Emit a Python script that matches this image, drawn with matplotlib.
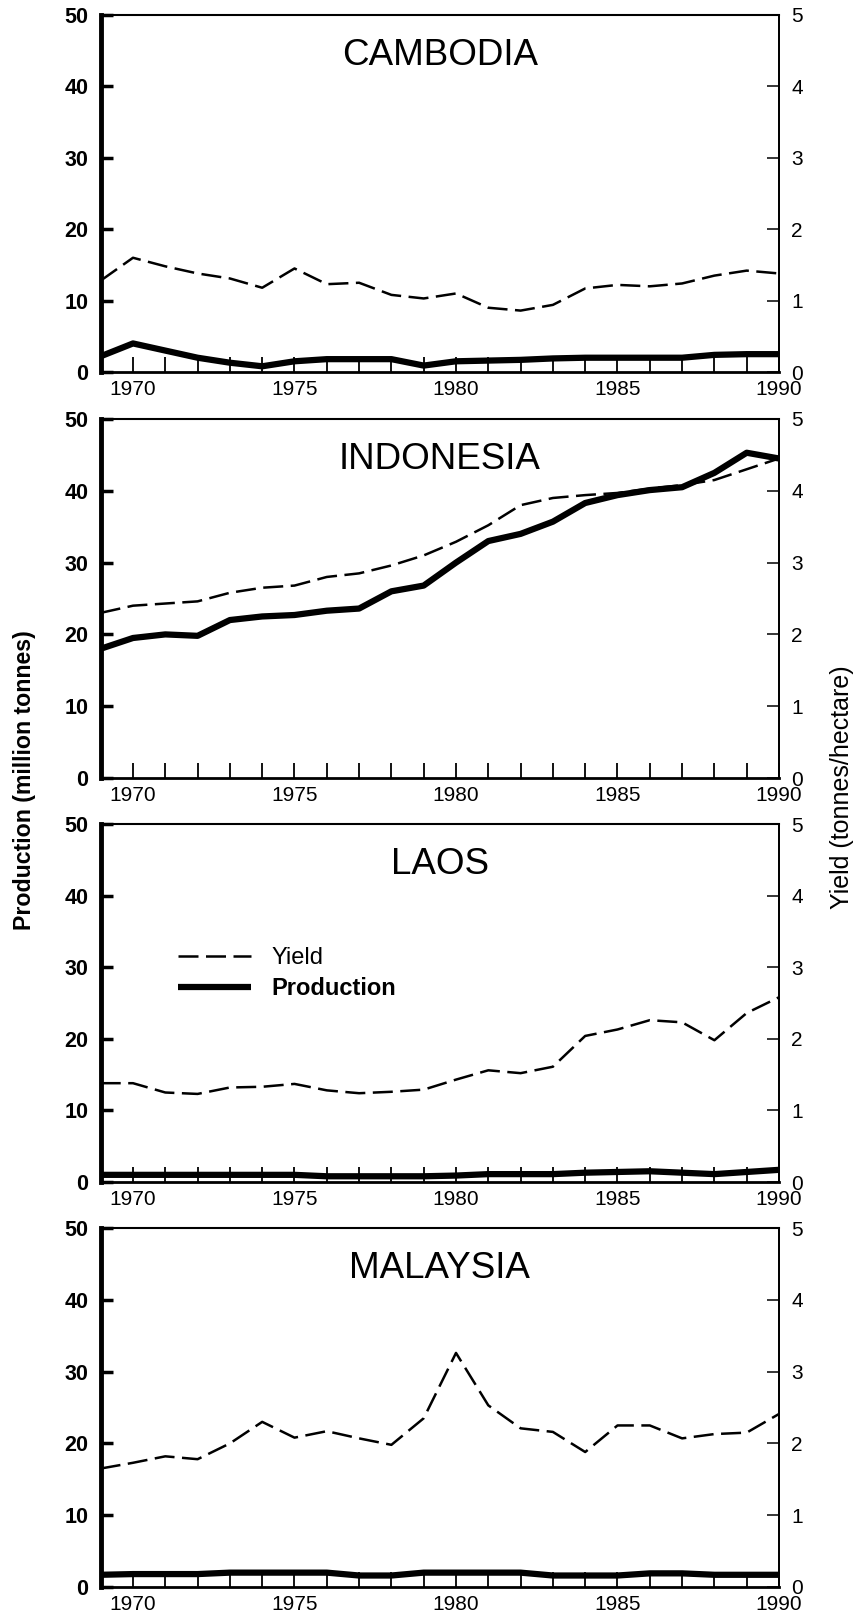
import matplotlib
matplotlib.use("Agg")
import matplotlib.pyplot as plt

plt.rcParams['font.family'] = ['Liberation Sans', 'DejaVu Sans']

years = list(range(1969, 1991))

countries = ["CAMBODIA", "INDONESIA", "LAOS", "MALAYSIA"]

# Production (million tonnes)
cambodia_prod = [2.2, 4.0, 3.0, 2.0, 1.3, 0.8, 1.5, 1.8, 1.8, 1.8, 0.9, 1.5,
                 1.6, 1.7, 1.9, 2.0, 2.0, 2.0, 2.0, 2.4, 2.5, 2.5]
indonesia_prod = [18.0, 19.5, 20.0, 19.8, 22.0, 22.5, 22.7, 23.3, 23.6, 26.0, 26.8, 30.0,
                  33.0, 34.0, 35.7, 38.3, 39.4, 40.1, 40.5, 42.5, 45.3, 44.5]
laos_prod = [1.0, 1.0, 1.0, 1.0, 1.0, 1.0, 1.0, 0.8, 0.8, 0.8, 0.8, 0.9,
             1.1, 1.1, 1.1, 1.3, 1.4, 1.5, 1.3, 1.1, 1.4, 1.7]
malaysia_prod = [1.7, 1.8, 1.8, 1.8, 2.0, 2.0, 2.0, 2.0, 1.6, 1.6, 2.0, 2.0,
                 2.0, 2.0, 1.6, 1.6, 1.6, 1.9, 1.9, 1.7, 1.7, 1.7]

# Yield (tonnes/hectare)
cambodia_yield = [1.28, 1.60, 1.48, 1.38, 1.31, 1.18, 1.45, 1.23, 1.25, 1.08, 1.03, 1.10,
                  0.90, 0.86, 0.94, 1.17, 1.22, 1.20, 1.24, 1.35, 1.42, 1.38]
indonesia_yield = [2.30, 2.40, 2.43, 2.46, 2.58, 2.65, 2.68, 2.80, 2.85, 2.96, 3.10, 3.29,
                   3.52, 3.80, 3.90, 3.94, 3.97, 4.03, 4.08, 4.15, 4.30, 4.45]
laos_yield = [1.38, 1.38, 1.25, 1.23, 1.32, 1.33, 1.37, 1.28, 1.24, 1.26, 1.29, 1.43,
              1.56, 1.52, 1.61, 2.04, 2.13, 2.26, 2.23, 1.98, 2.36, 2.58]
malaysia_yield = [1.65, 1.73, 1.82, 1.78, 2.00, 2.30, 2.08, 2.17, 2.07, 1.98, 2.35, 3.26,
                  2.53, 2.21, 2.16, 1.88, 2.25, 2.25, 2.07, 2.13, 2.15, 2.41]

production = [cambodia_prod, indonesia_prod, laos_prod, malaysia_prod]
yields = [cambodia_yield, indonesia_yield, laos_yield, malaysia_yield]

prod_ticks = [0, 10, 20, 30, 40, 50]
yield_ticks = [0, 1, 2, 3, 4, 5]
year_ticks = list(range(1970, 1991))
year_labels = [str(y) if y % 5 == 0 else "" for y in year_ticks]

W, H = 861, 1623
fig = plt.figure(figsize=(W / 100, H / 100), dpi=100)

panel_px = [(15, 372), (419, 778), (824, 1182), (1228, 1587)]
left_px, right_px = 100.7, 779.0

for i, (top, bot) in enumerate(panel_px):
    ax = fig.add_axes([left_px / W, 1 - bot / H, (right_px - left_px) / W, (bot - top) / H])
    ax.plot(years, production[i], color='black', lw=4.5, solid_capstyle='butt',
            label='Production')
    ax.set_xlim(1969, 1990)
    ax.set_ylim(0, 50)
    ax.set_xticks(year_ticks)
    ax.set_xticklabels(year_labels)
    ax.set_yticks(prod_ticks)
    ax.set_yticklabels([str(t) for t in prod_ticks], fontweight='bold')
    ax.tick_params(axis='x', direction='in', length=10.5, width=1.3, pad=6, labelsize=15)
    ax.tick_params(axis='y', direction='in', length=8.5, width=2.5, pad=9, labelsize=15.5)
    ax.spines['left'].set_linewidth(3.5)
    ax.spines['top'].set_linewidth(1.5)
    ax.spines['bottom'].set_linewidth(2.0)
    ax.spines['right'].set_linewidth(1.3)

    ax2 = ax.twinx()
    ax2.plot(years, yields[i], color='black', lw=1.8, dashes=(8, 3), label='Yield')
    ax2.set_ylim(0, 5)
    ax2.set_yticks(yield_ticks)
    ax2.tick_params(axis='y', direction='in', length=8.5, width=1.1, pad=9, labelsize=15)
    for s in ['left', 'top', 'bottom']:
        ax2.spines[s].set_visible(False)
    ax2.spines['right'].set_linewidth(1.3)

    ax2.text(0.5, 0.86, countries[i], transform=ax.transAxes, ha='center',
             va='baseline', fontsize=26.5)

    if i == 2:
        h1, l1 = ax2.get_legend_handles_labels()
        h2, l2 = ax.get_legend_handles_labels()
        leg = ax2.legend(h1 + h2, l1 + l2, loc='upper left',
                         bbox_to_anchor=(0.114, 0.656), frameon=False,
                         fontsize=17, handlelength=3.1, handletextpad=0.85,
                         labelspacing=0.35, borderpad=0, borderaxespad=0)
        leg.get_texts()[1].set_fontweight('bold')

fig.text(25 / W, 1 - 780 / H, 'Production (million tonnes)', rotation=90,
         ha='center', va='center', fontsize=16.7, fontweight='bold')
fig.text(842 / W, 1 - 787 / H, 'Yield (tonnes/hectare)', rotation=90,
         ha='center', va='center', fontsize=18)

fig.savefig('out.png', dpi=100)
